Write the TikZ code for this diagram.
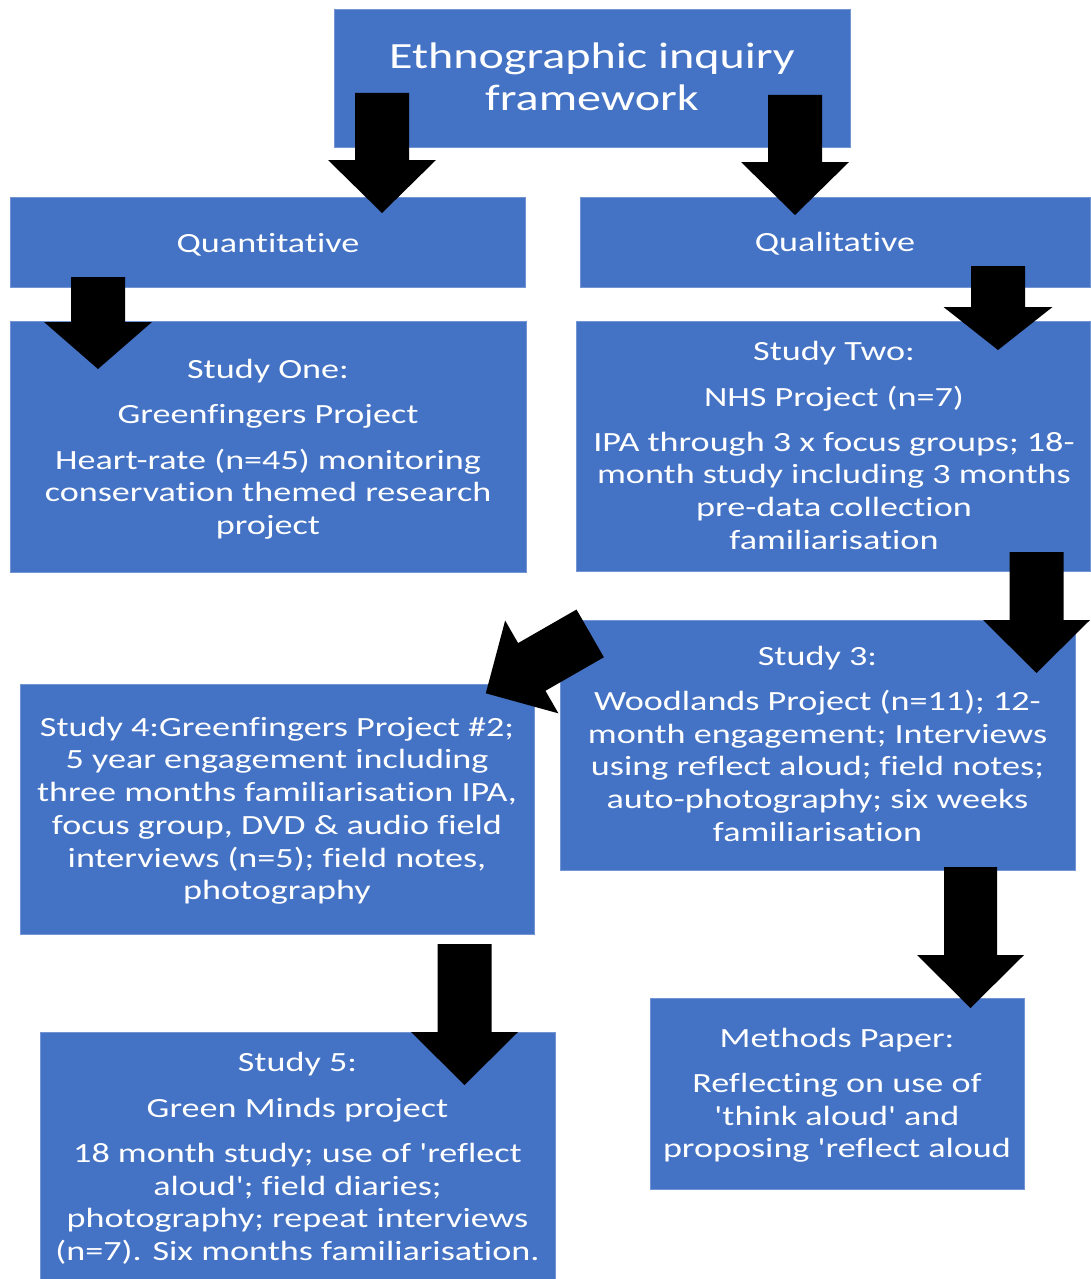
\documentclass[tikz,border=0pt]{standalone}
\usepackage{fontspec}
\usetikzlibrary{calc}
\newfontfamily\boxfont[FakeStretch=1.3,Ligatures={NoCommon,NoContextual,NoRare}]{Carlito}
\definecolor{boxblue}{HTML}{4472C4}
\newcommand\bodysize{\boxfont\fontsize{27.8}{32.7}\selectfont}
\newcommand\titlesize{\boxfont\fontsize{37}{42}\selectfont}
\newcommand\sq{\char"0027\relax}
\newcommand\pargap{\\[12.5pt]}
% Block arrow: #1 tail, #2 tip, #3 half shaft width, #4 half head width, #5 head length
\newcommand\blockarrow[5]{%
  \coordinate (#1-#2-h) at ($(#2)!#5pt!(#1)$);
  \fill[arrowfill]
    ($(#1)!#3pt!90:(#2)$) -- ($(#1-#2-h)!#3pt!90:(#2)$) -- ($(#1-#2-h)!#4pt!90:(#2)$)
    -- (#2)
    -- ($(#1-#2-h)!#4pt!-90:(#2)$) -- ($(#1-#2-h)!#3pt!-90:(#2)$) -- ($(#1)!#3pt!-90:(#2)$)
    -- cycle;}
\begin{document}
\begin{tikzpicture}[x=1pt,y=-1pt,
  box/.style={rectangle, fill=boxblue, draw=boxblue!75!white, line width=0.6pt,
              inner sep=0pt, outer sep=0pt},
  txt/.style={text=white, align=center, inner sep=0pt, anchor=north, font=\bodysize},
  arrowfill/.style={fill=black}]
\useasboundingbox (0,0) rectangle (1090,1279);

% boxes
\node[box, minimum width=516pt, minimum height=138pt] (top)   at (592,78) {};
\node[box, minimum width=515pt, minimum height=90pt]  (quant) at (267.5,242) {};
\node[box, minimum width=510pt, minimum height=90pt]  (qual)  at (835,242) {};
\node[box, minimum width=516pt, minimum height=251pt] (s1)    at (268,446.5) {};
\node[box, minimum width=513.5pt, minimum height=250pt] (s2)  at (833.25,446.5) {};
\node[box, minimum width=515pt, minimum height=250pt] (s3)    at (817.5,745) {};
\node[box, minimum width=514pt, minimum height=250pt] (s4)    at (277,809) {};
\node[box, minimum width=515pt, minimum height=249pt] (s5)    at (297.5,1156.5) {};
\node[box, minimum width=374pt, minimum height=191pt] (mp)    at (837,1093.5) {};

% texts
\node[txt, font=\titlesize] (toptxt) at (592,38.9) {\strut Ethnographic inquiry\\framework};
\node[txt] (quanttxt) at (268,229.4) {\strut Quantitative};
\node[txt] (qualtxt)  at (835,228.8) {\strut Qualitative};
\node[txt] (s1txt) at (268,355.6) {\strut Study One:\pargap Greenfingers Project\pargap
  Heart-rate (n=45) monitoring\\conservation themed research\\project};
\node[txt] (s2txt) at (834,337.8) {\strut Study Two:\pargap NHS Project (n=7)\pargap
  IPA through 3 x focus groups; 18-\\month study including 3 months\\pre-data collection\\familiarisation};
\node[txt] (s3txt) at (817.5,642.1) {\strut Study 3:\pargap
  Woodlands Project (n=11); 12-\\month engagement; Interviews\\using reflect aloud; field notes;\\auto-photography; six weeks\\familiarisation};
\node[txt] (s4txt) at (277,713.1) {\strut Study 4:Greenfingers Project \#2;\\5 year engagement including\\three months familiarisation IPA,\\focus group, DVD \& audio field\\interviews (n=5); field notes,\\photography};
\node[txt] (s5txt) at (297.5,1048.8) {\strut Study 5:\pargap Green Minds project\pargap
  18 month study; use of \sq reflect\\aloud\sq; field diaries;\\photography; repeat interviews\\(n=7). Six months familiarisation.};
\node[txt] (mptxt) at (837,1024.1) {\strut Methods Paper:\pargap
  Reflecting on use of\\\sq think aloud\sq{} and\\proposing \sq reflect aloud};

% arrow ends
\coordinate (a1s) at (382,93);      \coordinate (a1t) at (382,213);
\coordinate (a2s) at (795,95);      \coordinate (a2t) at (795,215);
\coordinate (a3s) at (98,277);      \coordinate (a3t) at (98,369);
\coordinate (a4s) at (998,266);     \coordinate (a4t) at (998,350);
\coordinate (a5s) at (1036.5,552);  \coordinate (a5t) at (1036.5,673);
\coordinate (a6s) at (590.2,633.4); \coordinate (a6t) at (485.8,693.3);
\coordinate (a7s) at (970.5,867);   \coordinate (a7t) at (970.5,1008);
\coordinate (a8s) at (464.5,944);   \coordinate (a8t) at (464.5,1085);

% block arrows
\blockarrow{a1s}{a1t}{27}{54}{53}
\blockarrow{a2s}{a2t}{27}{54}{53}
\blockarrow{a3s}{a3t}{27}{54}{47}
\blockarrow{a4s}{a4t}{27}{54.5}{43}
\blockarrow{a5s}{a5t}{27}{53.5}{53}
\blockarrow{a6s}{a6t}{27.5}{53.5}{53}
\blockarrow{a7s}{a7t}{26.5}{53.5}{53}
\blockarrow{a8s}{a8t}{27}{53.5}{53}
\end{tikzpicture}
\end{document}
